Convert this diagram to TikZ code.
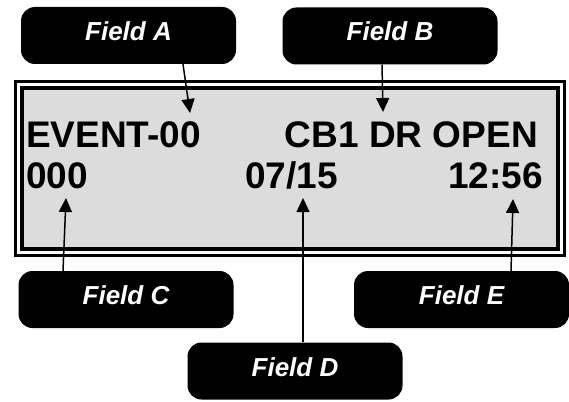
\documentclass[tikz,border=0pt]{standalone}
\usepackage{fontspec}
\setmainfont{Liberation Sans}
\usetikzlibrary{arrows.meta}
\definecolor{lcdgray}{RGB}{220,220,220}
\begin{document}
\begin{tikzpicture}[x=1pt,y=-1pt,
 field/.style={fill=black, rounded corners=14pt, minimum width=215pt, minimum height=57pt,
   inner sep=0pt, text height=19pt, text depth=9pt, text=white,
   font=\fontsize{26}{26}\selectfont\bfseries\itshape},
 lcd/.style={inner sep=0pt, font=\fontsize{37}{37}\selectfont\bfseries},
 ptr/.style={line width=1.5pt, -{Triangle[width=13pt,length=14pt]}}]
\useasboundingbox (0,0) rectangle (569,401);
% display frame
\node[draw, line width=3pt, minimum width=549pt, minimum height=173pt, inner sep=0pt] (outer) at (289.5,168.5) {};
\node[draw, fill=lcdgray, line width=3.5pt, minimum width=536pt, minimum height=161pt, inner sep=0pt] (inner) at (290,168.5) {};
% display text
\node[lcd, anchor=base west] (ev) at (26,147) {EVENT-00};
\node[lcd, anchor=base east] (cb) at (538,147) {CB1 DR OPEN};
\node[lcd, anchor=base west] (c0) at (26,188) {000};
\node[lcd, anchor=base west] (dt) at (245,188) {07/15};
\node[lcd, anchor=base east] (tm) at (543,188) {12:56};
% field labels
\node[field] (fA) at (128.5,35.5) {Field A};
\node[field] (fB) at (390,36) {Field B};
\node[field] (fC) at (126,299.5) {Field C};
\node[field] (fD) at (295,371) {Field D};
\node[field] (fE) at (461.5,299.5) {Field E};
% arrow targets
\coordinate (tA) at (190,113);
\coordinate (tB) at (383,112);
\coordinate (tC) at (66,198);
\coordinate (tD) at (303,198);
\coordinate (tE) at (513,199);
\draw[ptr] ([xshift=54.5pt]fA.south) -- (tA);
\draw[ptr] ([xshift=-8pt]fB.south) -- (tB);
\draw[ptr] ([xshift=-63pt]fC.north) -- (tC);
\draw[ptr] ([xshift=8pt]fD.north) -- (tD);
\draw[ptr] ([xshift=49.5pt]fE.north) -- (tE);
\end{tikzpicture}
\end{document}
